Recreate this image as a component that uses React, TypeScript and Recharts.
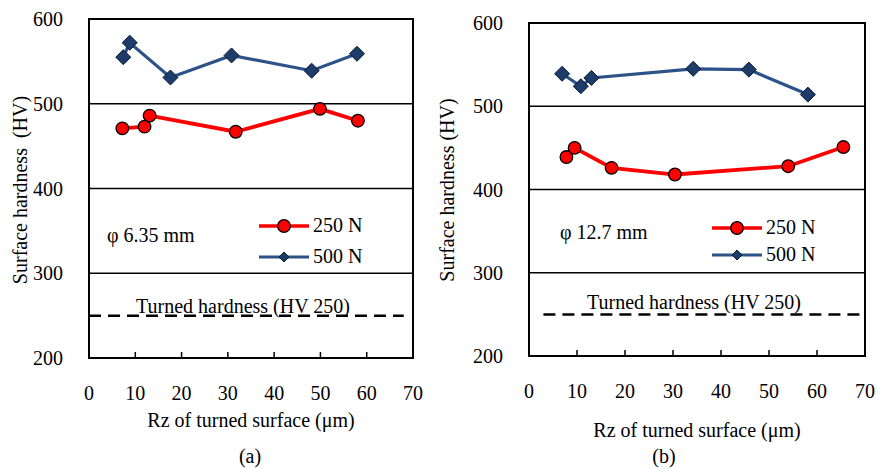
import React from 'react';
import { LineChart, Line, XAxis, YAxis, CartesianGrid, ReferenceArea } from 'recharts';

// Rz (µm) and surface hardness (HV)
const xTicks = [0, 10, 20, 30, 40, 50, 60, 70];
const yTicks = [200, 300, 400, 500, 600];

const rzA250 = [7.2, 12.0, 13.1, 31.7, 49.9, 58.1];
const hvA250 = [471, 473, 486, 467, 494, 480];
const rzA500 = [7.4, 8.8, 17.6, 30.8, 48.1, 57.9];
const hvA500 = [555, 572, 531, 557, 539, 559];

const rzB250 = [7.8, 9.5, 17.2, 30.4, 54.0, 65.5];
const hvB250 = [439, 450, 426, 418, 428, 451];
const rzB500 = [6.9, 10.8, 13.0, 34.2, 45.8, 58.1];
const hvB500 = [539, 524, 534, 545, 544, 514];

const turnedA = [0, 68];
const turnedB = [3, 69];
const turnedHV = 250;

const seriesNames = ['250 N', '500 N'];

const FONT = '"Liberation Serif", "Times New Roman", serif';
const FS = 20;
const RED = '#ff0000';
const BLUE = '#2c5288';
const BLUE_DARK = '#1d3c69';

const zip = (xs: number[], ys: number[]) => xs.map((x, i) => ({ x, y: ys[i] }));

const Diamond = (props: any) => {
  const { cx, cy, size = 7.5 } = props;
  if (cx == null || cy == null) return null;
  const r = size;
  return (
    <polygon
      points={`${cx},${cy - r} ${cx + r},${cy} ${cx},${cy + r} ${cx - r},${cy}`}
      fill={BLUE_DARK}
      stroke="#0b1a33"
      strokeWidth={1}
    />
  );
};

const Circle = (props: any) => {
  const { cx, cy } = props;
  if (cx == null || cy == null) return null;
  return <circle cx={cx} cy={cy} r={6.3} fill={RED} stroke="#000" strokeWidth={1.3} />;
};

const XTick = (props: any) => {
  const { x, y, payload } = props;
  const v = payload.value;
  return (
    <g>
      {v > 0 && v < 70 && <line x1={x} x2={x} y1={y} y2={y - 6} stroke="#000" strokeWidth={1.5} />}
      <text x={x} y={y + 35} textAnchor="middle" dominantBaseline="central" style={{ fontFamily: FONT, fontSize: FS }} fill="#000">
        {v}
      </text>
    </g>
  );
};

const YTick = (props: any) => {
  const { x, y, payload } = props;
  return (
    <text x={x} y={y} textAnchor="end" dominantBaseline="central" style={{ fontFamily: FONT, fontSize: FS }} fill="#000">
      {payload.value}
    </text>
  );
};

const LegendBox: React.FC<{ left: number; top: number; rowH: number }> = ({ left, top, rowH }) => (
  <div style={{ position: 'absolute', left, top, fontFamily: FONT, fontSize: FS }}>
    {seriesNames.map((name, i) => {
      const isRed = i === 0;
      return (
        <div key={name} style={{ display: 'flex', alignItems: 'center', height: rowH }}>
          <svg width={52} height={16}>
            <line x1={1} x2={51} y1={8} y2={8} stroke={isRed ? RED : BLUE} strokeWidth={isRed ? 3.5 : 3} />
            {isRed ? <Circle cx={26} cy={8} /> : <Diamond cx={26} cy={8} size={5} />}
          </svg>
          <span style={{ marginLeft: 3 }}>{name}</span>
        </div>
      );
    })}
  </div>
);

interface PanelProps {
  left: number;
  top: number;
  yAxisW: number;
  rightM: number;
  bottomM: number;
  s250: { x: number; y: number }[];
  s500: { x: number; y: number }[];
  turned: number[];
}

const Panel: React.FC<PanelProps> = ({ left, top, yAxisW, rightM, bottomM, s250, s500, turned }) => {
  const turnedData = turned.map((x) => ({ x, y: turnedHV }));
  return (
    <LineChart
      width={440}
      height={469}
      margin={{ top, right: rightM, bottom: bottomM, left: 0 }}
      style={{ position: 'absolute', left, top: 0 }}
    >
      <CartesianGrid horizontal vertical={false} stroke="#000" strokeWidth={1.3} strokeOpacity={1} />
      <XAxis
        type="number"
        dataKey="x"
        domain={[0, 70]}
        ticks={xTicks}
        tickSize={0}
        tickMargin={0}
        tickLine={false}
        axisLine={false}
        tick={<XTick />}
        height={60}
        allowDataOverflow
      />
      <YAxis
        type="number"
        domain={[200, 600]}
        ticks={yTicks}
        width={yAxisW}
        tickLine={false}
        axisLine={false}
        tickSize={0}
        tickMargin={26}
        tick={<YTick />}
        allowDataOverflow
      />
      <ReferenceArea x1={0} x2={70} y1={200} y2={600} fill="none" stroke="#000" strokeWidth={2} ifOverflow="visible" />
      <Line
        data={turnedData}
        dataKey="y"
        stroke="#000"
        strokeWidth={2.5}
        strokeDasharray="12 7"
        dot={false}
        activeDot={false}
        isAnimationActive={false}
      />
      <Line
        data={s250}
        dataKey="y"
        name={seriesNames[0]}
        stroke={RED}
        strokeWidth={3.8}
        dot={<Circle />}
        activeDot={false}
        isAnimationActive={false}
      />
      <Line
        data={s500}
        dataKey="y"
        name={seriesNames[1]}
        stroke={BLUE}
        strokeWidth={3.2}
        dot={<Diamond />}
        activeDot={false}
        isAnimationActive={false}
      />
    </LineChart>
  );
};

const Txt: React.FC<{ x: number; y: number; rot?: boolean; anchor?: 'start' | 'middle'; children: React.ReactNode }> = ({
  x,
  y,
  rot,
  anchor = 'middle',
  children,
}) => (
  <div
    style={{
      position: 'absolute',
      left: x,
      top: y,
      whiteSpace: 'nowrap',
      fontFamily: FONT,
      fontSize: FS,
      color: '#000',
      lineHeight: 1.1,
      transform: `translate(${anchor === 'middle' ? '-50%' : '0'}, -50%)${rot ? ' rotate(-90deg)' : ''}`,
    }}
  >
    {children}
  </div>
);

export default function App() {
  return (
    <div style={{ position: 'absolute', left: 0, top: 0, width: 877, height: 469, background: '#fff', overflow: 'hidden' }}>
      <Panel
        left={0}
        top={19}
        yAxisW={89}
        rightM={27}
        bottomM={51}
        s250={zip(rzA250, hvA250)}
        s500={zip(rzA500, hvA500)}
        turned={turnedA}
      />
      <Panel
        left={437}
        top={23}
        yAxisW={92}
        rightM={12}
        bottomM={53}
        s250={zip(rzB250, hvB250)}
        s500={zip(rzB500, hvB500)}
        turned={turnedB}
      />
      <LegendBox left={258} top={210} rowH={31} />
      <LegendBox left={711} top={214} rowH={27} />

      <Txt x={20} y={190} rot>Surface hardness&nbsp;&nbsp;(HV)</Txt>
      <Txt x={251} y={420}>Rz of turned surface (μm)</Txt>
      <Txt x={250} y={456}>(a)</Txt>
      <Txt x={107} y={235} anchor="start">φ 6.35 mm</Txt>
      <Txt x={243} y={306}>Turned hardness (HV 250)</Txt>

      <Txt x={447} y={190} rot>Surface hardness (HV)</Txt>
      <Txt x={697} y={430}>Rz of turned surface (μm)</Txt>
      <Txt x={664} y={456}>(b)</Txt>
      <Txt x={560} y={232} anchor="start">φ 12.7 mm</Txt>
      <Txt x={694} y={302}>Turned hardness (HV 250)</Txt>
    </div>
  );
}
